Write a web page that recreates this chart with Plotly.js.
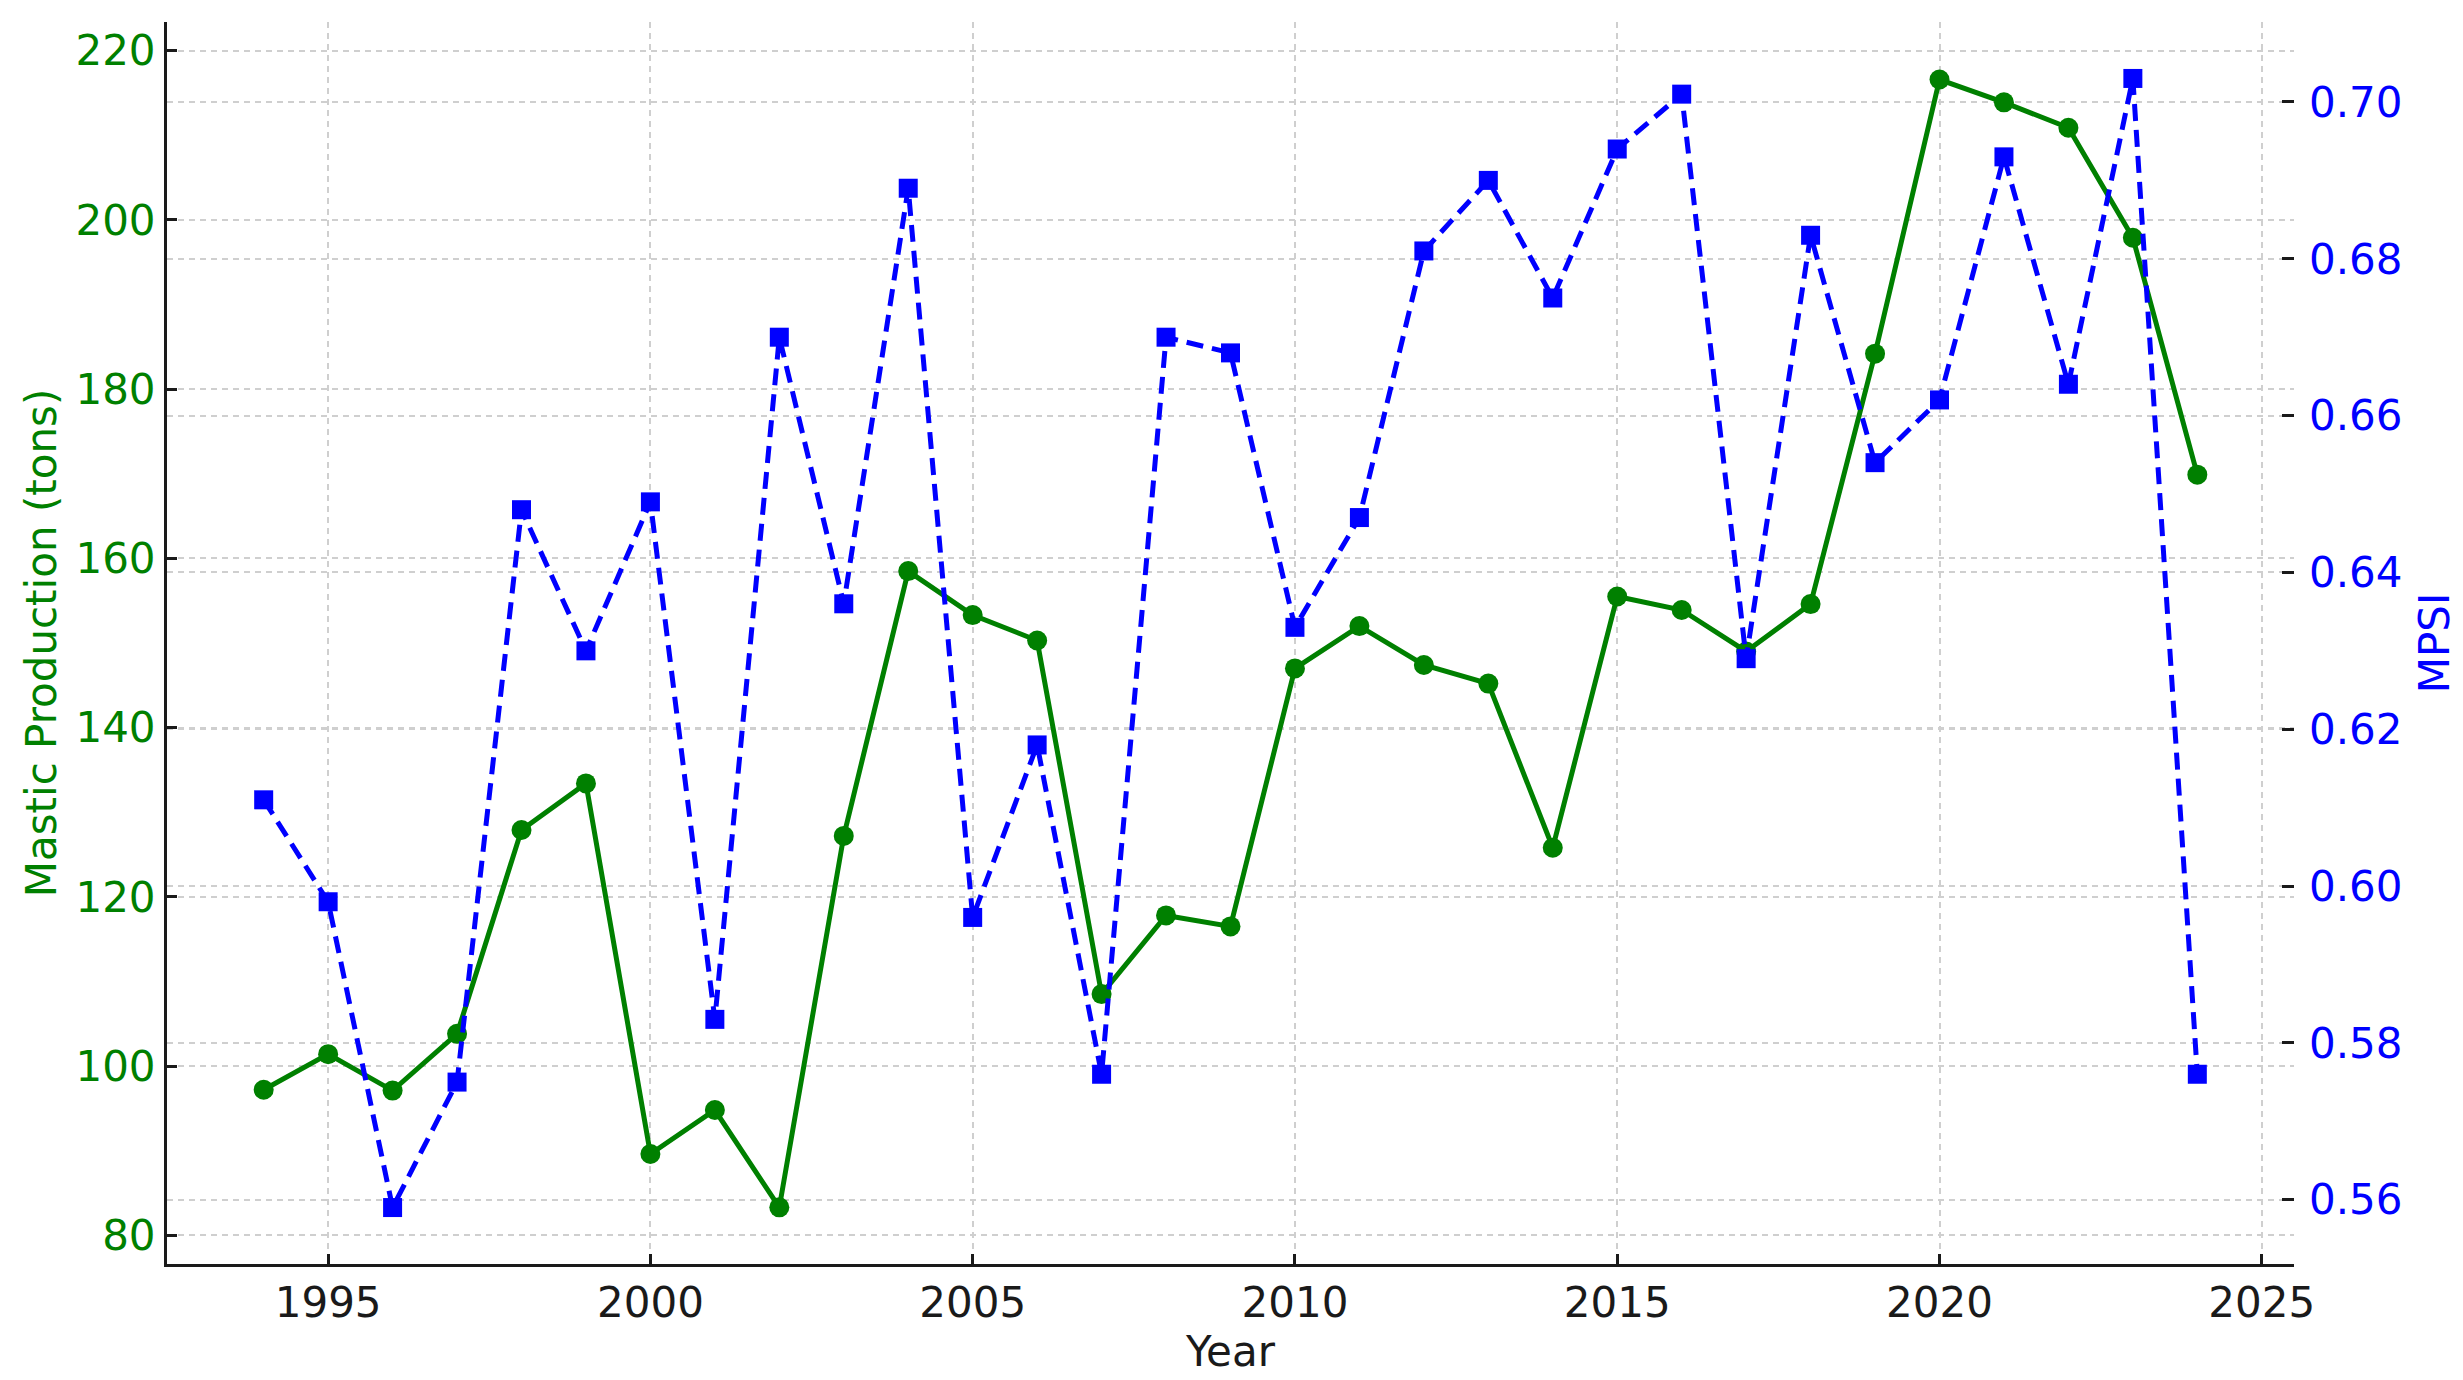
<!DOCTYPE html>
<html>
<head>
<meta charset="utf-8">
<script src="https://cdn.plot.ly/plotly-3.0.1.min.js"></script>
<style>html,body{margin:0;padding:0;background:#fff;}#chart{width:2463px;height:1380px;}</style>
</head>
<body>
<div id="chart"></div>
<script>
const years = [1994,1995,1996,1997,1998,1999,2000,2001,2002,2003,2004,2005,2006,2007,2008,2009,2010,2011,2012,2013,2014,2015,2016,2017,2018,2019,2020,2021,2022,2023,2024];
const production = [97.2,101.4,97.1,103.8,127.9,133.4,89.6,94.8,83.3,127.2,158.5,153.3,150.3,108.5,117.8,116.5,147.0,152.0,147.4,145.2,125.8,155.5,153.9,149.0,154.6,184.2,216.6,213.9,210.9,197.9,169.9];
const mpsi = [0.611,0.598,0.559,0.575,0.648,0.630,0.649,0.583,0.670,0.636,0.689,0.596,0.618,0.576,0.670,0.668,0.633,0.647,0.681,0.690,0.675,0.694,0.701,0.629,0.683,0.654,0.662,0.693,0.664,0.703,0.576];
const xTicks = [1995,2000,2005,2010,2015,2020,2025];
const yLeftTicks = [80,100,120,140,160,180,200,220];
const yRightTicks = [0.56,0.58,0.60,0.62,0.64,0.66,0.68,0.70];

const FONT = '"DejaVu Sans", Verdana, sans-serif';
const GRID = '#cfcfcf';
const FS = 42;

const traces = [
  {
    x: years, y: production, type: 'scatter', mode: 'lines+markers',
    name: 'Mastic Production (tons)',
    line: {color: 'green', width: 5},
    marker: {color: 'green', size: 20, symbol: 'circle'},
    yaxis: 'y'
  },
  {
    x: years, y: mpsi, type: 'scatter', mode: 'lines+markers',
    name: 'MPSI',
    line: {color: 'blue', width: 5, dash: '17px,9px'},
    marker: {color: 'blue', size: 19, symbol: 'square'},
    yaxis: 'y2'
  }
];

const layout = {
  width: 2463, height: 1380,
  margin: {l: 167, r: 169, t: 22, b: 116},
  paper_bgcolor: '#ffffff', plot_bgcolor: '#ffffff',
  showlegend: false,
  font: {family: FONT, size: FS, color: '#1a1a1a'},
  xaxis: {
    range: [1992.5, 2025.5],
    tickvals: xTicks, ticktext: xTicks.map(String),
    showline: true, linecolor: '#1a1a1a', linewidth: 3,
    ticks: 'inside', ticklen: 10, tickwidth: 3, tickcolor: '#1a1a1a',
    tickfont: {family: FONT, size: FS, color: '#1a1a1a'},
    showgrid: true, gridcolor: GRID, gridwidth: 2, griddash: '6px,5px',
    zeroline: false,
    title: {text: 'Year', font: {family: FONT, size: FS, color: '#1a1a1a'}, standoff: 8}
  },
  yaxis: {
    range: [76.6, 223.4],
    tickvals: yLeftTicks,
    showline: true, linecolor: '#1a1a1a', linewidth: 3,
    ticks: 'inside', ticklen: 10, tickwidth: 3, tickcolor: '#1a1a1a',
    tickfont: {family: FONT, size: FS, color: 'green'},
    showgrid: true, gridcolor: GRID, gridwidth: 2, griddash: '6px,5px',
    zeroline: false,
    title: {text: 'Mastic Production (tons)', font: {family: FONT, size: FS, color: 'green'}, standoff: 6}
  },
  yaxis2: {
    overlaying: 'y', side: 'right',
    range: [0.5518, 0.7102],
    tickvals: yRightTicks, tickformat: '.2f',
    showline: false,
    ticks: 'inside', ticklen: 12, tickwidth: 3, tickcolor: '#1a1a1a',
    ticklabelstandoff: 14,
    tickfont: {family: FONT, size: FS, color: 'blue'},
    showgrid: true, gridcolor: GRID, gridwidth: 2, griddash: '6px,5px',
    zeroline: false,
    title: {text: 'MPSI', font: {family: FONT, size: FS, color: 'blue'}, standoff: 18}
  }
};

Plotly.newPlot('chart', traces, layout, {displayModeBar: false, staticPlot: true});
</script>
</body>
</html>
